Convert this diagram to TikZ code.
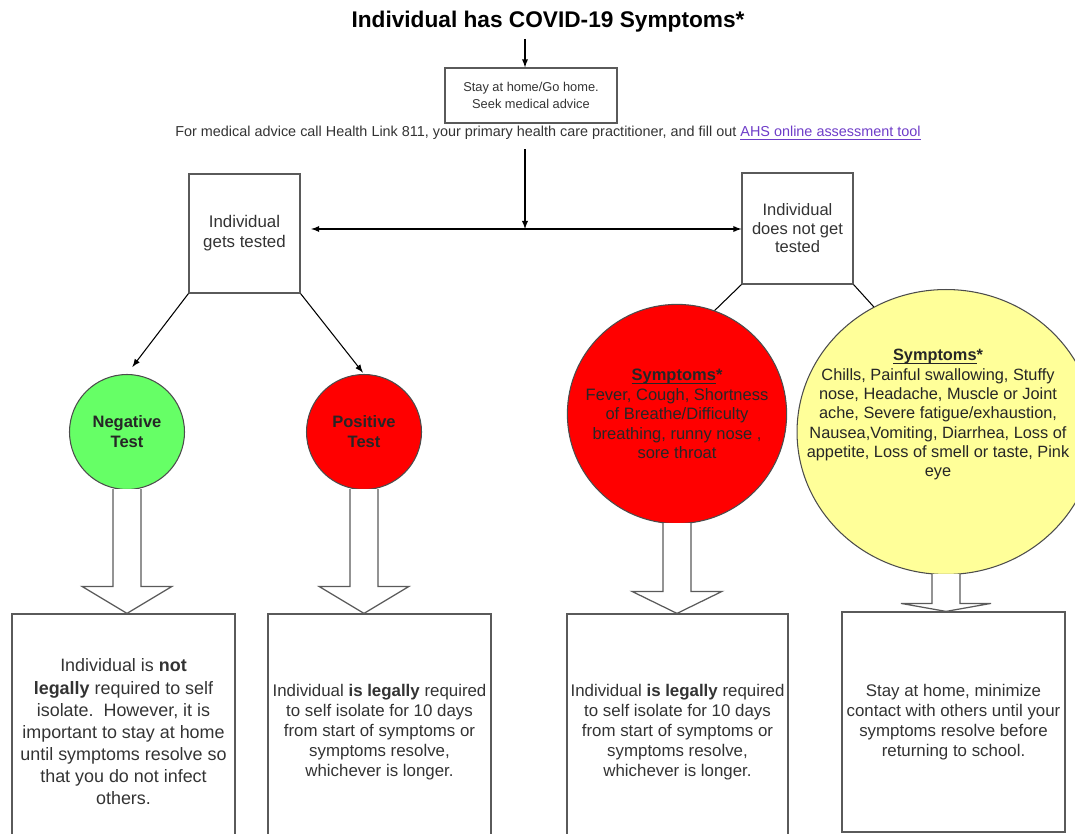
\documentclass[tikz,border=0pt]{standalone}
\usepackage{fontspec}
\setmainfont{Liberation Sans}
\usetikzlibrary{shapes.geometric,calc,positioning}
\definecolor{negfill}{RGB}{102,255,102}
\definecolor{posfill}{RGB}{255,0,0}
\definecolor{mildfill}{RGB}{255,255,153}
\definecolor{linkpurple}{RGB}{110,60,200}
\definecolor{edgegray}{RGB}{90,90,90}
\newcommand{\uln}[1]{\underline{\smash{#1}}}
\tikzset{
    box/.style={% plain box, centred text
        draw=edgegray, line width=0.7pt, rectangle, align=center, text=black!80, inner sep=2pt},
    result/.style={% outcome circle
        draw=black!70, circle, align=center, text=black!85, minimum size=#1,
        font=\bfseries\fontsize{9.4}{11.3}\selectfont},
    hollow/.style={draw=edgegray, fill=white, line width=0.7pt},
    body/.style={font=\fontsize{9.6}{11.3}\selectfont}
}
% hollow block arrow from a circle down to a box: circle, box, head length (px)
\newcommand{\hollowarrow}[3]{%
  \coordinate (tip) at (#1.south |- #2.north);
  \draw[hollow] ($(#1.south)+(-14,-1)$) -- ($(tip)+(-14,-#3)$) -- ($(tip)+(-45,-#3)$) -- (tip)
      -- ($(tip)+(45,-#3)$) -- ($(tip)+(14,-#3)$) -- ($(#1.south)+(14,-1)$);}

\begin{document}
\begin{tikzpicture}[>=latex, x=0.02cm, y=-0.02cm, line width=0.6pt]
\useasboundingbox (0,0) rectangle (1075,834);
\node[font=\bfseries\fontsize{12.9}{15}\selectfont] (title) at (548,22) {Individual has COVID-19 Symptoms*};
\node[box, minimum width=3.44cm, minimum height=1.1cm, font=\fontsize{7.3}{9.6}\selectfont] (stay) at (531,95.5) {Stay at home/Go home.\\Seek medical advice};
\node[text=black!80, font=\fontsize{8.2}{9}\selectfont, inner sep=1pt] (advice) at (548,133) {For medical advice call Health Link 811, your primary health care practitioner, and fill out {\color{linkpurple}\uln{AHS online assessment tool}}};
\coordinate (split) at (525,229);
\node[box, body, minimum width=2.22cm, minimum height=2.38cm] (tested) at (244.5,233.5) {Individual\\gets tested};
\node[box, minimum width=2.22cm, minimum height=2.22cm, font=\fontsize{9.4}{10.5}\selectfont] (nottested) at (797.5,228.5) {Individual\\does not get\\tested};

\node[result=2.3cm, fill=negfill] (neg) at (127,432) {Negative\\Test};
\node[result=2.3cm, fill=posfill] (pos) at (364,432) {Positive\\Test};
\node[result=3.84cm, fill=posfill, font=\fontsize{9.4}{11.1}\selectfont] (symA) at (677,414) {\textbf{\uln{Symptoms}*}\\Fever, Cough, Shortness\\of Breathe/Difficulty\\breathing, runny nose ,\\sore throat};
\node[ellipse, draw=black!70, fill=mildfill, minimum width=5.96cm, minimum height=5.7cm] (symB) at (946,432) {};
\node[align=center, text=black!85, font=\fontsize{9.3}{11}\selectfont] (symBtext) at (938,415) {\textbf{\uln{Symptoms}*}\\Chills, Painful swallowing, Stuffy\\nose, Headache, Muscle or Joint\\ache, Severe fatigue/exhaustion,\\Nausea,Vomiting, Diarrhea, Loss of\\appetite, Loss of smell or taste, Pink\\eye};

\node[box, minimum width=4.46cm, minimum height=4.72cm, font=\fontsize{10.2}{12.6}\selectfont] (notreq) at (123.5,732) {Individual is \textbf{not}\\\textbf{legally} required to self\\isolate.\ \ However, it is\\important to stay at home\\until symptoms resolve so\\that you do not infect\\others.};
\node[box, body, minimum width=4.46cm, minimum height=4.72cm] (legalA) at (379.5,732) {Individual \textbf{is legally} required\\to self isolate for 10 days\\from start of symptoms or\\symptoms resolve,\\whichever is longer.};
\node[box, body, minimum width=4.42cm, minimum height=4.72cm] (legalB) at (677.5,732) {Individual \textbf{is legally} required\\to self isolate for 10 days\\from start of symptoms or\\symptoms resolve,\\whichever is longer.};
\node[box, body, minimum width=4.46cm, minimum height=4.4cm] (stayhome) at (953.5,722) {Stay at home, minimize\\contact with others until your\\symptoms resolve before\\returning to school.};

\draw[->] (title.south -| split) -- (split |- stay.north);
\draw[->, shorten <=4pt] (advice.south -| split) -- (split);
\draw[->, shorten >=6pt] (split) -- (split -| tested.east);
\draw[->] (split) -- (split -| nottested.west);
\draw[->, shorten >=5pt] (tested.south west) -- (neg.north);
\draw[->, shorten >=1pt] (tested.south east) -- (pos.north);
\draw (nottested.south west) -- (symA.70);
\draw (nottested.south east) -- (symB.120);

\hollowarrow{neg}{notreq}{27}
\hollowarrow{pos}{legalA}{27}
\hollowarrow{symA}{legalB}{22}
\hollowarrow{symB}{stayhome}{8}
\end{tikzpicture}
\end{document}
